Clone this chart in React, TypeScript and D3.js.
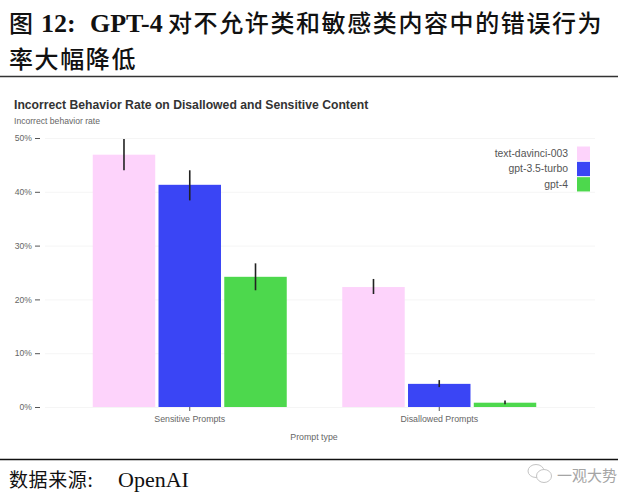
import { useEffect, useRef } from 'react'
import * as d3 from 'd3'

const categories = ['Sensitive Prompts', 'Disallowed Prompts']
const models = ['text-davinci-003', 'gpt-3.5-turbo', 'gpt-4']
const colors = ['#fdd3fb', '#3a45f5', '#4dd84d']

// values per model, same order as categories
const davinci = [46.9, 22.3]
const turbo = [41.3, 4.3]
const gpt4 = [24.2, 0.8]
const davinciErr = [[44, 49.8], [21, 23.8]]
const turboErr = [[38.4, 44], [3.7, 5]]
const gpt4Err = [[21.7, 26.7], [0.5, 1.2]]

const yTicks = [0, 10, 20, 30, 40, 50]

const CJK = '"Noto Sans CJK SC", sans-serif'
const SERIF = '"Liberation Serif", serif'
const SANS = '"Liberation Sans", sans-serif'

export default function App() {
  const ref = useRef<SVGSVGElement>(null)

  useEffect(() => {
    const svg = d3.select(ref.current)
    svg.selectAll('*').remove()

    const y = d3.scaleLinear().domain([0, 50]).range([407, 138])
    const x0 = d3.scaleBand().domain(categories).range([65, 564])
    const x1 = d3.scaleBand().domain(models).range([-97, 97]).paddingInner(0.05)

    // header and footer of the page
    const head = svg.append('g').attr('fill', '#111')
    const headText = (s: string, x: number, yy: number, weight = 500, font = CJK, size = 24, sp = 1.6) =>
      head.append('text').attr('x', x).attr('y', yy).text(s)
        .attr('font-family', font).attr('font-size', size)
        .attr('font-weight', weight).attr('letter-spacing', sp)

    headText('图', 9, 32)
    headText('12:', 41, 32, 700, SERIF, 26, 0)
    headText('GPT-4', 90, 32, 700, SERIF, 26, 0)
    headText('对不允许类和敏感类内容中的错误行为', 168, 32)
    headText('率大幅降低', 9, 68)
    headText('数据来源:', 9, 487, 400, CJK, 19, 0.6)
    headText('OpenAI', 118, 487, 400, SERIF, 22, 0)

    svg.append('line').attr('x1', 0).attr('x2', 618).attr('y1', 76.5).attr('y2', 76.5).attr('stroke', '#333').attr('stroke-width', 1.5)
    svg.append('line').attr('x1', 0).attr('x2', 618).attr('y1', 459.5).attr('y2', 459.5).attr('stroke', '#111').attr('stroke-width', 1.5)

    // watermark
    const wm = svg.append('g').attr('fill', '#fff').attr('stroke', '#c4c4c4').attr('stroke-width', 1)
    wm.append('ellipse').attr('cx', 536).attr('cy', 471).attr('rx', 8).attr('ry', 6.5)
    wm.append('ellipse').attr('cx', 544).attr('cy', 476).attr('rx', 7.5).attr('ry', 6.5)
    svg.append('text').attr('x', 557).attr('y', 481).text('一观大势')
      .attr('font-family', CJK).attr('font-size', 15).attr('fill', '#a5a5a5')

    // chart titles
    svg.append('text').attr('x', 14).attr('y', 109).text('Incorrect Behavior Rate on Disallowed and Sensitive Content')
      .attr('font-family', SANS).attr('font-size', 12.2).attr('font-weight', 700).attr('fill', '#333')
    svg.append('text').attr('x', 14).attr('y', 124).text('Incorrect behavior rate')
      .attr('font-family', SANS).attr('font-size', 8.6).attr('fill', '#666')

    // y axis with light grid
    const yAxis = svg.append('g').attr('transform', 'translate(40,0)')
      .call(d3.axisLeft(y).tickValues(yTicks).tickFormat(d => `${d}%`).tickSize(0).tickPadding(0))
    yAxis.select('.domain').remove()
    yAxis.selectAll('text').attr('font-family', SANS).attr('font-size', 8.6).attr('fill', '#666').attr('dx', -8)
    yAxis.selectAll('.tick').append('line').attr('x1', -5).attr('x2', 0).attr('stroke', '#555').attr('stroke-width', 1).attr('y1', 0).attr('y2', 0)
    yAxis.selectAll('.tick').append('line').attr('x1', 5).attr('x2', 555).attr('stroke', '#f5f5f5').attr('y1', 0).attr('y2', 0)

    // bars and error bars
    const series = [
      { name: models[0], color: colors[0], values: davinci, err: davinciErr },
      { name: models[1], color: colors[1], values: turbo, err: turboErr },
      { name: models[2], color: colors[2], values: gpt4, err: gpt4Err },
    ]
    series.forEach(s => {
      categories.forEach((c, i) => {
        const left = x0(c)! + x0.bandwidth() / 2 + x1(s.name)!
        svg.append('rect').attr('x', left).attr('y', y(s.values[i]))
          .attr('width', x1.bandwidth()).attr('height', y(0) - y(s.values[i]))
          .attr('fill', s.color)
        svg.append('line').attr('x1', left + x1.bandwidth() / 2).attr('x2', left + x1.bandwidth() / 2)
          .attr('y1', y(s.err[i][0])).attr('y2', y(s.err[i][1]))
          .attr('stroke', '#222').attr('stroke-width', 1.6)
      })
    })

    // x axis
    const xAxis = svg.append('g').attr('transform', 'translate(0,407)')
      .call(d3.axisBottom(x0).tickSize(4).tickPadding(5))
    xAxis.select('.domain').remove()
    xAxis.selectAll('line').attr('stroke', '#555')
    xAxis.selectAll('text').attr('font-family', SANS).attr('font-size', 8.8).attr('fill', '#666')
    svg.append('text').attr('x', 314).attr('y', 440).attr('text-anchor', 'middle').text('Prompt type')
      .attr('font-family', SANS).attr('font-size', 8.8).attr('fill', '#666')

    // legend
    const legendY = d3.scaleBand().domain(models).range([146, 192])
    models.forEach((m, i) => {
      svg.append('rect').attr('x', 577).attr('y', legendY(m)! + 0.5).attr('width', 13).attr('height', 14.3).attr('fill', colors[i])
      svg.append('text').attr('x', 568).attr('y', legendY(m)! + 11).attr('text-anchor', 'end').text(m)
        .attr('font-family', SANS).attr('font-size', 10.4).attr('fill', '#555')
    })
  }, [])

  return <svg ref={ref} width={640} height={501} style={{ position: 'absolute', left: 0, top: 0, background: '#fff' }} />
}
